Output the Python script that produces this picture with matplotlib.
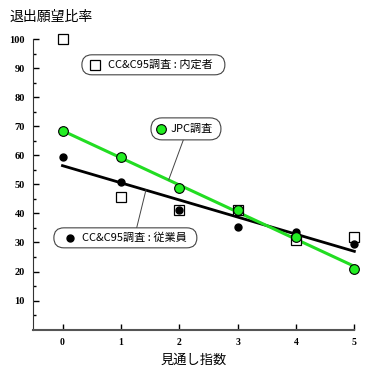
import matplotlib.pyplot as plt
import matplotlib.transforms as mtransforms
from matplotlib.patches import FancyBboxPatch
import numpy as np

plt.rcParams['font.family'] = ['Noto Sans CJK JP', 'DejaVu Sans']

# 見通し指数
x = [0, 1, 2, 3, 4, 5]
# JPC調査
jpc = [68.4, 59.4, 48.8, 41.2, 32.0, 21.0]
# CC&C95調査：従業員
employee = [59.4, 50.9, 41.2, 35.4, 33.7, 29.6]
# CC&C95調査：内定者
naitei = [100.0, 45.7, 41.2, 41.2, 31.0, 32.0]

yticks = [10, 20, 30, 40, 50, 60, 70, 80, 90, 100]

fig = plt.figure(figsize=(3.79, 3.84), dpi=100)
ax = fig.add_axes([0.0879, 0.1415, 0.8471, 0.7567])

xs = np.array(x, dtype=float)
fit_jpc = np.polyfit(xs, jpc, 1)
fit_emp = np.polyfit(xs, employee, 1)
xl = np.array([xs[0], xs[-1]])

ax.plot(xl, np.polyval(fit_emp, xl), color='black', lw=2.0, zorder=2, clip_on=False)
ax.plot(xl, np.polyval(fit_jpc, xl), color='#22dd22', lw=2.2, zorder=3, clip_on=False)

ax.plot(x, naitei, 's', ms=7, mfc='white', mec='black', mew=0.9, zorder=4, clip_on=False)
ax.plot(x, employee, 'o', ms=5, color='black', zorder=5, clip_on=False)
ax.plot(x, jpc, 'o', ms=7, mfc='#22ee22', mec='black', mew=0.8, zorder=6, clip_on=False)

ax.set_xlim(-0.5, 5.0)
ax.set_ylim(0, 100)
ax.spines['top'].set_visible(False)
ax.spines['right'].set_visible(False)
ax.spines['left'].set_color('#333333')
ax.spines['bottom'].set_color('#555555')
ax.spines['bottom'].set_linewidth(1.5)

ax.set_xticks(x)
ax.set_yticks(yticks)
ax.set_yticks(np.arange(5, 100, 10), minor=True)
ax.tick_params(axis='x', direction='in', length=4, width=1, pad=6)
ax.tick_params(axis='y', which='major', direction='in', length=4.5, width=1, pad=6)
ax.tick_params(axis='y', which='minor', direction='in', length=2.5, width=1)
for lab in ax.get_xticklabels():
    lab.set_fontfamily('Liberation Serif')
    lab.set_fontweight('bold')
    lab.set_fontsize(7)
for lab in ax.get_yticklabels():
    lab.set_fontfamily('Liberation Serif')
    lab.set_fontweight('bold')
    lab.set_fontsize(7.5)

fig.text(0.026, 0.955, '退出願望比率', fontsize=10, va='center', ha='left')
ax.set_xlabel('見通し指数', fontsize=9.5, labelpad=5)


def label_box(cx, cy, w, h, text, mk_dx, txt_dx, marker):
    # box sized in pixels (inches at 100 dpi) around a data anchor
    trans = fig.dpi_scale_trans + mtransforms.ScaledTranslation(cx, cy, ax.transData)
    patch = FancyBboxPatch((-w / 200, -h / 200), w / 100, h / 100,
                           boxstyle='round,pad=0,rounding_size=%f' % (h / 200),
                           fc='white', ec='#444444', lw=0.8, transform=trans,
                           zorder=7, clip_on=False)
    ax.add_patch(patch)
    ax.plot([mk_dx / 100], [0], transform=trans, zorder=8, clip_on=False, **marker)
    ax.text(txt_dx / 100, 0, text, transform=trans, fontsize=8, ha='left',
            va='center', zorder=8)


# leader lines
ax.plot([2.07, 1.82], [65.3, 51.6], color='#444444', lw=0.7, zorder=6.5)
ax.plot([1.27, 1.43], [35.0, 48.1], color='#444444', lw=0.7, zorder=6.5)

label_box(1.557, 91.15, 143, 20, 'CC&C95調査 : 内定者', -58.5, -45.5,
          dict(marker='s', ms=7, mfc='white', mec='black', mew=0.9))
label_box(2.115, 69.1, 70, 22, 'JPC調査', -25, -15,
          dict(marker='o', ms=7, mfc='#22ee22', mec='black', mew=0.8))
label_box(1.077, 31.6, 143, 20, 'CC&C95調査 : 従業員', -55.5, -43.5,
          dict(marker='o', ms=5, color='black'))

fig.savefig('out.png', dpi=100)
